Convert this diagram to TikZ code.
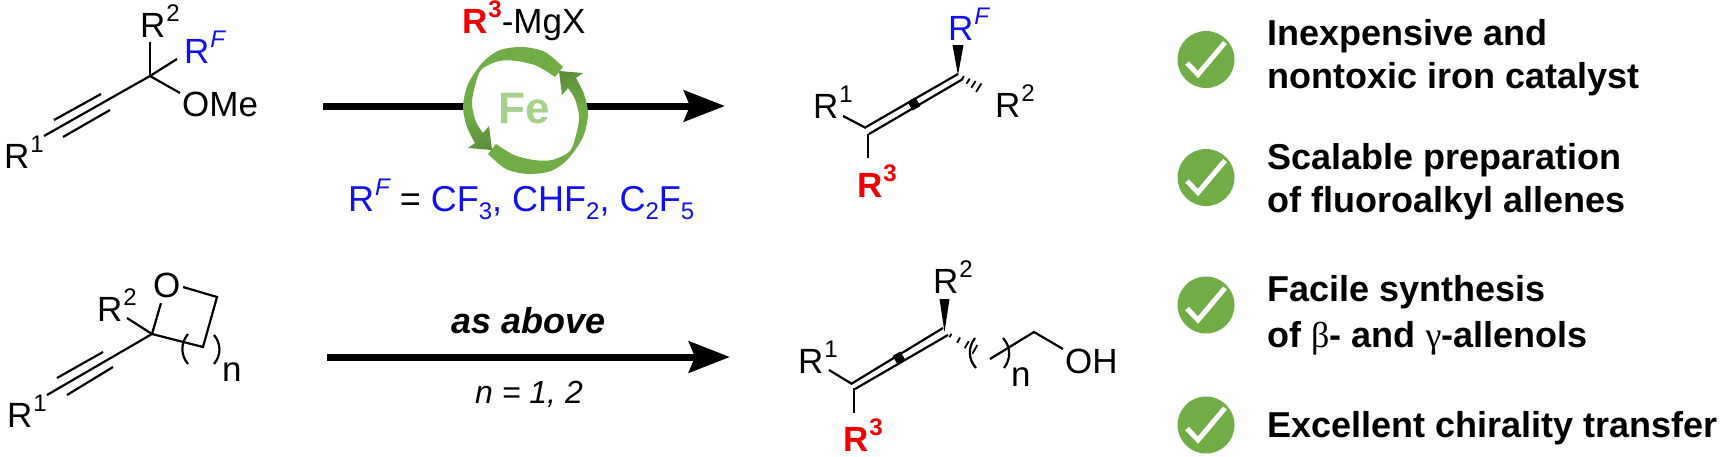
\documentclass[tikz,border=0pt]{standalone}
\usepackage{fontspec}
\setmainfont{Liberation Sans}
\newfontfamily\greekfont{Liberation Serif}
\usetikzlibrary{arrows.meta, calc}
\definecolor{leaf}{HTML}{70AD47}
\definecolor{leafdark}{HTML}{548235}
\definecolor{leaflight}{HTML}{A4D18C}
\definecolor{fluoro}{HTML}{1010F0}
\definecolor{rthree}{HTML}{F00000}
\tikzstyle{atom} = [anchor=base west, inner sep=0pt, font=\fontsize{35}{35}\selectfont]
\tikzstyle{bond} = [line width=2.2pt]
\tikzstyle{thinbond} = [line width=1.8pt]
\tikzstyle{wedge} = [fill=black]
\tikzstyle{dot} = [rectangle, fill=black, minimum width=9pt, minimum height=10pt, inner sep=0pt]
\tikzstyle{rxn} = [line width=7pt, -{Stealth[length=41pt,width=31pt,inset=6pt]}]
\tikzstyle{tick} = [draw=none, fill=leaf, circle, minimum size=57pt, inner sep=0pt]
\tikzstyle{tickline} = [white, line width=5pt]
\tikzstyle{item} = [atom, font=\fontsize{36}{43}\selectfont\bfseries]
\newcommand\Sup[1]{\kern1pt\raisebox{16pt}{\fontsize{24}{24}\selectfont #1}}
\newcommand\Sub[1]{\raisebox{-8pt}{\fontsize{24}{24}\selectfont #1}}
\newcommand\HashBond[2]{%
    \foreach \t/\w in {0.12/2, 0.34/3, 0.56/4, 0.78/5, 1/6} {
        \draw[thinbond] ($(#1)!\t!(#2)!\w pt!90:(#2)$) -- ($(#1)!\t!(#2)!\w pt!-90:(#2)$);
    }
}
\begin{document}
\begin{tikzpicture}[x=1pt, y=-1pt]
\useasboundingbox (0,0) rectangle (1722,456);

% Top substrate
\coordinate (TL_C) at (150,76);
\coordinate (TL_R1) at (44,136);
\coordinate (TL_A1) at (54,120); \coordinate (TL_A2) at (101,94);
\coordinate (TL_B1) at (63,137); \coordinate (TL_B2) at (110,110);
\coordinate (TL_R2) at (150,42);
\coordinate (TL_RF) at (177,59);
\coordinate (TL_OME) at (180,93);
\node (TL_R1_TXT) [atom] at (4,168) {R\Sup{1}};
\node (TL_R2_TXT) [atom] at (140,37) {R\Sup{2}};
\node (TL_RF_TXT) [atom, text=fluoro] at (184,63) {R\Sup{\itshape F}};
\node (TL_OME_TXT) [atom] at (182,116) {OMe};
\draw[bond] (TL_R1) -- (TL_C);
\draw[bond] (TL_A1) -- (TL_A2);
\draw[bond] (TL_B1) -- (TL_B2);
\draw[bond] (TL_C) -- (TL_R2);
\draw[bond] (TL_C) -- (TL_RF);
\draw[bond] (TL_C) -- (TL_OME);

% Top arrow and iron cycle
\coordinate (ARROW1_START) at (323,106);
\coordinate (ARROW1_END) at (725,106);
\draw[rxn] (ARROW1_START) -- (ARROW1_END);
\node (CYCLE_BG) [circle, fill=white, minimum size=116pt, inner sep=0pt] at (525,109.5) {};
\foreach \ang in {0,180} {
    \begin{scope}[rotate around={\ang:(525.5,110.5)}]
    \shade[left color=leaf, right color=leafdark, middle color=leaf, shading angle=\ang+20]
        plot[smooth] coordinates {(563,67) (545,52) (523,47) (500,50) (483,62) (468,84) (463,107) (467,127) (475,143)}
        -- (468,148) -- (492,150) -- (489,126)
        -- plot[smooth] coordinates {(483,133) (476,122) (472,105) (474,90) (481,70) (499,61) (517,61) (537,66) (555,77)}
        -- cycle;
    \end{scope}
}
\node (FE) [anchor=base, inner sep=0pt, text=leaflight, font=\fontsize{44}{44}\selectfont\bfseries] at (524.5,123) {Fe};
\node (GRIGNARD) [atom] at (462,33) {\textcolor{rthree}{\bfseries R\Sup{3}}-MgX};
\node (RF_LIST) [atom, text=fluoro, font=\fontsize{36}{36}\selectfont] at (348,211) {R\Sup{\itshape F} \textcolor{black}{=} CF\Sub{3}, CHF\Sub{2}, C\Sub{2}F\Sub{5}};

% Top allene
\coordinate (TP_L1) at (866,127); \coordinate (TP_L2) at (958,74);
\coordinate (TP_M1) at (869,134); \coordinate (TP_M2) at (963,79);
\coordinate (TP_R1A) at (843,116); \coordinate (TP_R1B) at (866,128);
\coordinate (TP_R3A) at (868,134); \coordinate (TP_R3B) at (868,158);
\coordinate (TP_H1) at (960,76); \coordinate (TP_H2) at (984,91);
\node (TP_R1_TXT) [atom] at (813,118) {R\Sup{1}};
\node (TP_R3_TXT) [atom, text=rthree, font=\fontsize{35}{35}\selectfont\bfseries] at (857,197) {R\Sup{3}};
\node (TP_RF_TXT) [atom, text=fluoro] at (948,40) {R\Sup{\itshape F}};
\node (TP_R2_TXT) [atom] at (995,117) {R\Sup{2}};
\draw[bond] (TP_L1) -- (TP_L2);
\draw[bond] (TP_M1) -- (TP_M2);
\draw[bond] (TP_R1A) -- (TP_R1B);
\draw[bond] (TP_R3A) -- (TP_R3B);
\node (TP_DOT) [dot, rotate=30] at (914,104) {};
\coordinate (TP_W1) at (952.5,45); \coordinate (TP_W2) at (963.5,45); \coordinate (TP_W3) at (958,75);
\fill[wedge] (TP_W1) -- (TP_W2) -- (TP_W3) -- cycle;
\HashBond{TP_H1}{TP_H2}

% Bottom substrate
\coordinate (BL_C) at (152,334);
\coordinate (BL_R1) at (47,395);
\coordinate (BL_A1) at (57,378); \coordinate (BL_A2) at (103,352);
\coordinate (BL_B1) at (67,395); \coordinate (BL_B2) at (113,367);
\coordinate (BL_R2) at (127,318);
\coordinate (BL_O) at (161,303);
\coordinate (BL_O2) at (183,287); \coordinate (BL_CH2) at (217,297); \coordinate (BL_CH) at (203,347);
\coordinate (BL_PA1) at (188,334); \coordinate (BL_PA2) at (188,364);
\coordinate (BL_PB1) at (214,335); \coordinate (BL_PB2) at (214,364);
\node (BL_R1_TXT) [atom] at (7,427) {R\Sup{1}};
\node (BL_R2_TXT) [atom] at (97,321) {R\Sup{2}};
\node (BL_O_TXT) [atom] at (153,297) {O};
\node (BL_N_TXT) [atom] at (222,381) {n};
\draw[bond] (BL_R1) -- (BL_C);
\draw[bond] (BL_A1) -- (BL_A2);
\draw[bond] (BL_B1) -- (BL_B2);
\draw[bond] (BL_C) -- (BL_R2);
\draw[bond] (BL_C) -- (BL_O);
\draw[bond] (BL_O2) -- (BL_CH2) -- (BL_CH) -- (BL_C);
\draw[bond] (BL_PA1) to[bend right=40] (BL_PA2);
\draw[bond] (BL_PB1) to[bend left=40] (BL_PB2);

% Bottom arrow
\coordinate (ARROW2_START) at (327,357);
\coordinate (ARROW2_END) at (730,357);
\draw[rxn] (ARROW2_START) -- (ARROW2_END);
\node (ABOVE) [anchor=base, inner sep=0pt, font=\fontsize{36}{36}\selectfont\bfseries\itshape] at (529,333) {as above};
\node (N_VALUES) [anchor=base, inner sep=0pt, font=\fontsize{32}{32}\selectfont\itshape] at (529,403) {n = 1, 2};

% Bottom allene
\coordinate (BP_L1) at (851,384); \coordinate (BP_L2) at (943,328);
\coordinate (BP_M1) at (855,389); \coordinate (BP_M2) at (948,335);
\coordinate (BP_R1A) at (829,370); \coordinate (BP_R1B) at (852,384);
\coordinate (BP_R3A) at (854,388); \coordinate (BP_R3B) at (854,413);
\coordinate (BP_H1) at (946,333); \coordinate (BP_H2) at (983,354);
\coordinate (BP_CH1) at (990,359); \coordinate (BP_CH2) at (1034,332); \coordinate (BP_OH) at (1063,349);
\coordinate (BP_PA1) at (975,338); \coordinate (BP_PA2) at (976,368);
\coordinate (BP_PB1) at (1003,338); \coordinate (BP_PB2) at (1004,368);
\node (BP_R1_TXT) [atom] at (798,373) {R\Sup{1}};
\node (BP_R3_TXT) [atom, text=rthree, font=\fontsize{35}{35}\selectfont\bfseries] at (843,451) {R\Sup{3}};
\node (BP_R2_TXT) [atom] at (933,293) {R\Sup{2}};
\node (BP_N_TXT) [atom] at (1011,386) {n};
\node (BP_OH_TXT) [atom] at (1065,373) {OH};
\draw[bond] (BP_L1) -- (BP_L2);
\draw[bond] (BP_M1) -- (BP_M2);
\draw[bond] (BP_R1A) -- (BP_R1B);
\draw[bond] (BP_R3A) -- (BP_R3B);
\draw[bond] (BP_CH1) -- (BP_CH2) -- (BP_OH);
\draw[bond] (BP_PA1) to[bend right=40] (BP_PA2);
\draw[bond] (BP_PB1) to[bend left=40] (BP_PB2);
\node (BP_DOT) [dot, rotate=30] at (899,358) {};
\coordinate (BP_W1) at (939.5,299); \coordinate (BP_W2) at (949.5,299); \coordinate (BP_W3) at (944.5,332);
\fill[wedge] (BP_W1) -- (BP_W2) -- (BP_W3) -- cycle;
\HashBond{BP_H1}{BP_H2}

% Ticks
\foreach \name/\ypos in {1/59.5, 2/177.5, 3/305, 4/425} {
    \node (TICK\name) [tick] at (1206,\ypos) {};
    \draw[tickline] ([shift={(-19,3.5)}]TICK\name.center) -- ([shift={(-8,15)}]TICK\name.center)
        -- ([shift={(19,-17)}]TICK\name.center);
}
\node (ITEM1) [item] at (1267,45) {Inexpensive and};
\node (ITEM1B) [item] at (1267,88) {nontoxic iron catalyst};
\node (ITEM2) [item] at (1267,169) {Scalable preparation};
\node (ITEM2B) [item] at (1267,212) {of fluoroalkyl allenes};
\node (ITEM3) [item] at (1267,301) {Facile synthesis};
\node (ITEM3B) [item] at (1267,347) {of {\greekfont\mdseries β}- and {\greekfont\mdseries γ}-allenols};
\node (ITEM4) [item] at (1267,437) {Excellent chirality transfer};

\end{tikzpicture}
\end{document}
